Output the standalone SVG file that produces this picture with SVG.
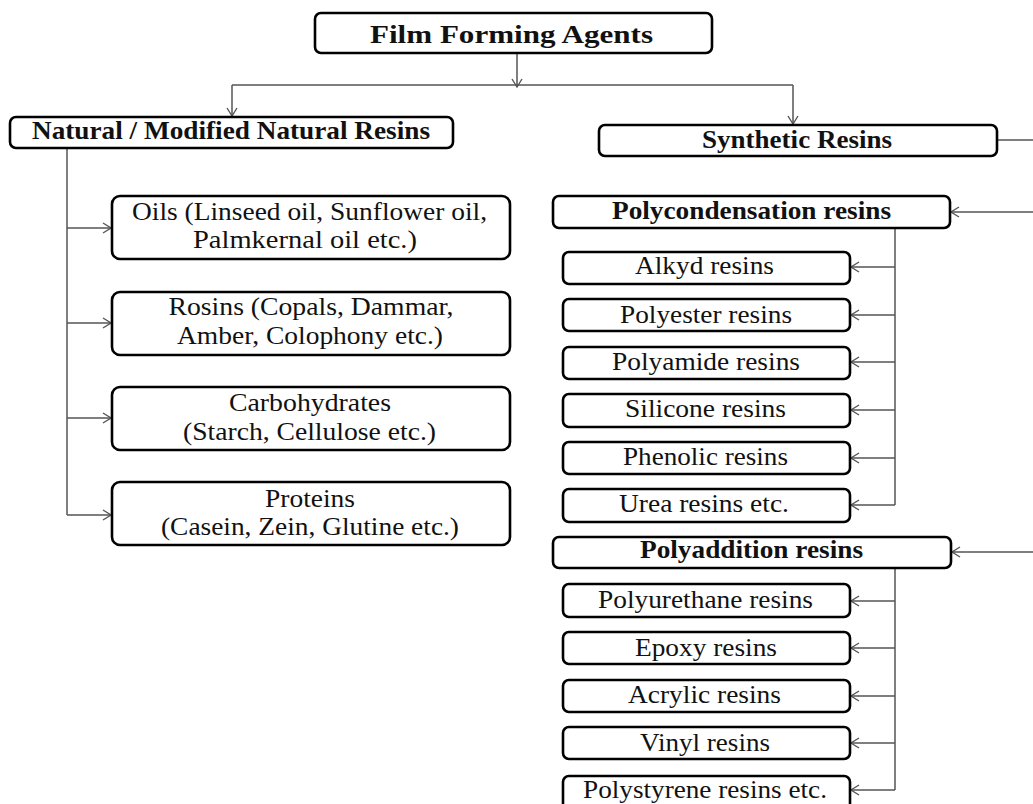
<svg xmlns="http://www.w3.org/2000/svg" width="1033" height="804" viewBox="0 0 1033 804">
<defs>
<marker id="ah" markerUnits="userSpaceOnUse" markerWidth="12" markerHeight="12" refX="9" refY="6" orient="auto">
<path d="M1,1 L9,6 L1,11" fill="none" stroke="#555" stroke-width="1.4"/>
</marker>
<style>
.box{fill:#fff;stroke:#000;stroke-width:2.6}
.t{font-size:25px;fill:#111;text-anchor:middle}
.b{font-weight:bold}
.c{fill:none;stroke:#555;stroke-width:1.5}
.a{marker-end:url(#ah)}
</style>
</defs>
<rect width="1033" height="804" fill="#fff"/>
<g id="connectors">
<path class="c a" d="M517,53 V87"/>
<path class="c" d="M232,85 H793"/>
<path class="c a" d="M232,85 V116"/>
<path class="c a" d="M793,85 V124"/>
<path class="c" d="M67,148 V515"/>
<path class="c a" d="M67,228 H111"/>
<path class="c a" d="M67,323 H111"/>
<path class="c a" d="M67,418 H111"/>
<path class="c a" d="M67,515 H111"/>
<path class="c" d="M997,140 H1040 V552"/>
<path class="c a" d="M1040,212 H951"/>
<path class="c a" d="M1040,552 H952"/>
<path class="c" d="M895,228 V505"/>
<path class="c a" d="M895,267 H851"/>
<path class="c a" d="M895,315 H851"/>
<path class="c a" d="M895,362 H851"/>
<path class="c a" d="M895,410 H851"/>
<path class="c a" d="M895,458 H851"/>
<path class="c a" d="M895,505 H851"/>
<path class="c" d="M895,568 V790"/>
<path class="c a" d="M895,601 H851"/>
<path class="c a" d="M895,648 H851"/>
<path class="c a" d="M895,696 H851"/>
<path class="c a" d="M895,743 H851"/>
<path class="c a" d="M895,790 H851"/>
</g>
<g font-family="'Liberation Serif', 'Times New Roman', Times, serif">
<g id="film-forming-agents"><rect class="box" x="315" y="13" width="397" height="40" rx="6"/><text class="t b" x="511.5" y="43" textLength="283" lengthAdjust="spacingAndGlyphs">Film Forming Agents</text></g>
<g id="natural-resins"><rect class="box" x="10" y="117" width="443" height="31" rx="6"/><text class="t b" x="231" y="139" textLength="398" lengthAdjust="spacingAndGlyphs">Natural / Modified Natural Resins</text></g>
<g id="synthetic-resins"><rect class="box" x="599" y="125" width="398" height="31" rx="6"/><text class="t b" x="797" y="148" textLength="190" lengthAdjust="spacingAndGlyphs">Synthetic Resins</text></g>
<g id="oils"><rect class="box" x="112" y="196" width="398" height="63" rx="8"/><text class="t" x="309.5" y="220" textLength="355" lengthAdjust="spacingAndGlyphs">Oils (Linseed oil, Sunflower oil,</text><text class="t" x="305" y="248" textLength="224" lengthAdjust="spacingAndGlyphs">Palmkernal oil etc.)</text></g>
<g id="rosins"><rect class="box" x="112" y="292" width="398" height="63" rx="8"/><text class="t" x="311" y="315" textLength="285" lengthAdjust="spacingAndGlyphs">Rosins (Copals, Dammar,</text><text class="t" x="310" y="344" textLength="266" lengthAdjust="spacingAndGlyphs">Amber, Colophony etc.)</text></g>
<g id="carbohydrates"><rect class="box" x="112" y="387" width="398" height="63" rx="8"/><text class="t" x="310" y="411" textLength="162" lengthAdjust="spacingAndGlyphs">Carbohydrates</text><text class="t" x="309.5" y="440" textLength="253" lengthAdjust="spacingAndGlyphs">(Starch, Cellulose etc.)</text></g>
<g id="proteins"><rect class="box" x="112" y="482" width="398" height="63" rx="8"/><text class="t" x="310" y="507" textLength="90" lengthAdjust="spacingAndGlyphs">Proteins</text><text class="t" x="310" y="535" textLength="298" lengthAdjust="spacingAndGlyphs">(Casein, Zein, Glutine etc.)</text></g>
<g id="polycondensation"><rect class="box" x="553" y="196" width="397" height="32" rx="6"/><text class="t b" x="751.5" y="219" textLength="279" lengthAdjust="spacingAndGlyphs">Polycondensation resins</text></g>
<g id="alkyd"><rect class="box" x="563" y="252" width="287" height="32" rx="6"/><text class="t" x="704.5" y="274" textLength="139" lengthAdjust="spacingAndGlyphs">Alkyd resins</text></g>
<g id="polyester"><rect class="box" x="563" y="299" width="287" height="32" rx="6"/><text class="t" x="706" y="323" textLength="172" lengthAdjust="spacingAndGlyphs">Polyester resins</text></g>
<g id="polyamide"><rect class="box" x="563" y="347" width="287" height="32" rx="6"/><text class="t" x="706" y="370" textLength="188" lengthAdjust="spacingAndGlyphs">Polyamide resins</text></g>
<g id="silicone"><rect class="box" x="563" y="394" width="287" height="33" rx="6"/><text class="t" x="705.5" y="417" textLength="161" lengthAdjust="spacingAndGlyphs">Silicone resins</text></g>
<g id="phenolic"><rect class="box" x="563" y="442" width="287" height="32" rx="6"/><text class="t" x="705.5" y="465" textLength="165" lengthAdjust="spacingAndGlyphs">Phenolic resins</text></g>
<g id="urea"><rect class="box" x="563" y="489" width="287" height="33" rx="6"/><text class="t" x="704" y="512" textLength="170" lengthAdjust="spacingAndGlyphs">Urea resins etc.</text></g>
<g id="polyaddition"><rect class="box" x="553" y="537" width="398" height="31" rx="6"/><text class="t b" x="751.5" y="558" textLength="223" lengthAdjust="spacingAndGlyphs">Polyaddition resins</text></g>
<g id="polyurethane"><rect class="box" x="563" y="584" width="287" height="33" rx="6"/><text class="t" x="705.5" y="608" textLength="215" lengthAdjust="spacingAndGlyphs">Polyurethane resins</text></g>
<g id="epoxy"><rect class="box" x="563" y="632" width="287" height="32" rx="6"/><text class="t" x="706" y="656" textLength="142" lengthAdjust="spacingAndGlyphs">Epoxy resins</text></g>
<g id="acrylic"><rect class="box" x="563" y="680" width="287" height="32" rx="6"/><text class="t" x="704.5" y="703" textLength="153" lengthAdjust="spacingAndGlyphs">Acrylic resins</text></g>
<g id="vinyl"><rect class="box" x="563" y="727" width="287" height="32" rx="6"/><text class="t" x="705" y="751" textLength="130" lengthAdjust="spacingAndGlyphs">Vinyl resins</text></g>
<g id="polystyrene"><rect class="box" x="563" y="776" width="287" height="36" rx="6"/><text class="t" x="705" y="798" textLength="244" lengthAdjust="spacingAndGlyphs">Polystyrene resins etc.</text></g>
</g>
</svg>
